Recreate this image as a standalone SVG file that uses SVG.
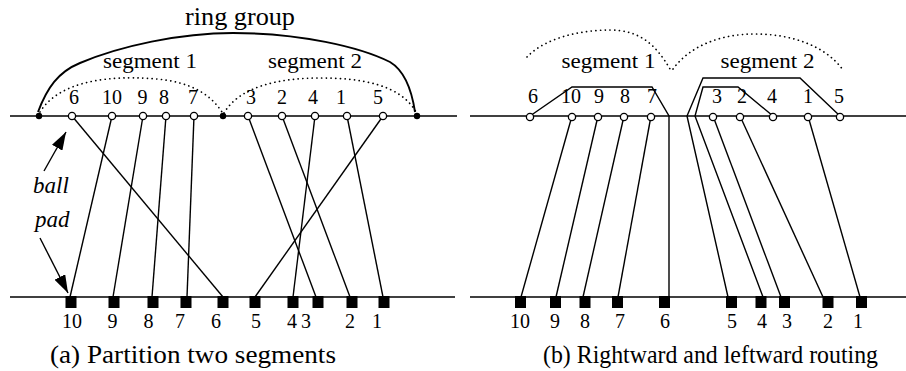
<svg xmlns="http://www.w3.org/2000/svg" width="906" height="371" viewBox="0 0 906 371">
<style>
text{font-family:"Liberation Serif","Times New Roman",serif;fill:#000}
.n{font-size:20px;text-anchor:middle}
.seg{font-size:22px;text-anchor:middle}
.cap{font-size:25px}
.it{font-size:23px;font-style:italic}
.base{stroke:#000;stroke-width:1.5;fill:none}
.w{stroke:#000;stroke-width:1.4;fill:none;stroke-linejoin:miter}
.dot{stroke:#000;stroke-width:1.7;fill:none;stroke-dasharray:0.1 4.6;stroke-linecap:round}
.ball{fill:#fff;stroke:#000;stroke-width:1.3}
.bd{fill:#000}
.pad{fill:#000}
</style>
<defs>
<marker id="ah" markerUnits="userSpaceOnUse" viewBox="0 0 18 12" refX="18" refY="6" markerWidth="18" markerHeight="12" orient="auto"><path d="M0,0 L18,6 L0,12 z" fill="#000"/></marker>
</defs>
<rect width="906" height="371" fill="#fff"/>

<g id="panel-a-lines">
<path class="base" d="M10,116 H457"/>
<path class="base" d="M10,297 H455"/>
</g>
<g id="panel-b-lines">
<path class="base" d="M470,116 H906"/>
<path class="base" d="M470,297 H906"/>
</g>

<g id="connectors">
<path class="w" d="M72,116 L223,297"/>
<path class="w" d="M112,116 L70,297"/>
<path class="w" d="M143,116 L113,297"/>
<path class="w" d="M166,116 L152,297"/>
<path class="w" d="M194,116 L187,297"/>
<path class="w" d="M248,116 L316,297"/>
<path class="w" d="M282,116 L350,297"/>
<path class="w" d="M315,116 L293,297"/>
<path class="w" d="M347,116 L383,297"/>
<path class="w" d="M383,116 L255,297"/>
<path d="M38,112 C47,88 58,72 80,63 C120,46 180,33 233,33 C300,33 360,47 390,62 C405,71 412,92 415,112" stroke="#000" stroke-width="1.9" fill="none"/>
<path class="dot" d="M40,112 C60,80 110,77 140,78 C180,79 206,88 222,112"/>
<path class="dot" d="M224,113 C240,86 280,78 320,78 C360,78 400,84 416,112"/>
<path d="M44,171 L66,132" stroke="#000" stroke-width="1.4" marker-end="url(#ah)"/>
<path d="M40,238 L68,293" stroke="#000" stroke-width="1.4" marker-end="url(#ah)"/>

<path class="w" d="M572,116 L521,297"/>
<path class="w" d="M598,116 L556,297"/>
<path class="w" d="M624,116 L583,297"/>
<path class="w" d="M651,116 L618,297"/>
<path class="w" d="M530,116 L572,87 L652,87 L669,116 L669,297"/>
<path class="w" d="M840,116 L800,78 L703,78 L687,116 L728,297"/>
<path class="w" d="M773,116 L738,87 L703,87 L695,116 L763,297"/>
<path class="w" d="M713,116 L781,297"/>
<path class="w" d="M740,116 L823,297"/>
<path class="w" d="M808,116 L860,297"/>
<path class="dot" d="M527,57 C545,38 580,30 610,30 C640,30 656,45 670,69"/>
<path class="dot" d="M673,69 C690,46 720,34 755,34 C790,34 825,45 843,70"/>
</g>

<g id="panel-a-balls">
<circle class="bd" cx="39" cy="116" r="3.2"/>
<circle class="bd" cx="223" cy="116" r="3.2"/>
<circle class="bd" cx="417" cy="116" r="3.2"/>
<circle class="ball" cx="72" cy="116" r="3.6"/>
<circle class="ball" cx="112" cy="116" r="3.6"/>
<circle class="ball" cx="143" cy="116" r="3.6"/>
<circle class="ball" cx="166" cy="116" r="3.6"/>
<circle class="ball" cx="194" cy="116" r="3.6"/>
<circle class="ball" cx="248" cy="116" r="3.6"/>
<circle class="ball" cx="282" cy="116" r="3.6"/>
<circle class="ball" cx="315" cy="116" r="3.6"/>
<circle class="ball" cx="347" cy="116" r="3.6"/>
<circle class="ball" cx="383" cy="116" r="3.6"/>
</g>

<g id="panel-a-pads">
<rect class="pad" x="65.5" y="296" width="11" height="12"/>
<rect class="pad" x="108.5" y="296" width="11" height="12"/>
<rect class="pad" x="147.5" y="296" width="11" height="12"/>
<rect class="pad" x="180.5" y="296" width="11" height="12"/>
<rect class="pad" x="217.5" y="296" width="11" height="12"/>
<rect class="pad" x="249.5" y="296" width="11" height="12"/>
<rect class="pad" x="287.5" y="296" width="11" height="12"/>
<rect class="pad" x="312.5" y="296" width="11" height="12"/>
<rect class="pad" x="346.5" y="296" width="11" height="12"/>
<rect class="pad" x="378.5" y="296" width="11" height="12"/>
</g>

<g id="panel-b-balls">
<circle class="ball" cx="530" cy="117" r="3.6"/>
<circle class="ball" cx="572" cy="117" r="3.6"/>
<circle class="ball" cx="598" cy="117" r="3.6"/>
<circle class="ball" cx="624" cy="117" r="3.6"/>
<circle class="ball" cx="651" cy="117" r="3.6"/>
<circle class="ball" cx="713" cy="117" r="3.6"/>
<circle class="ball" cx="740" cy="117" r="3.6"/>
<circle class="ball" cx="773" cy="117" r="3.6"/>
<circle class="ball" cx="808" cy="117" r="3.6"/>
<circle class="ball" cx="840" cy="117" r="3.6"/>
</g>

<g id="panel-b-pads">
<rect class="pad" x="515" y="296" width="11" height="12"/>
<rect class="pad" x="550" y="296" width="11" height="12"/>
<rect class="pad" x="579.5" y="296" width="11" height="12"/>
<rect class="pad" x="612" y="296" width="11" height="12"/>
<rect class="pad" x="659" y="296" width="11" height="12"/>
<rect class="pad" x="726" y="296" width="11" height="12"/>
<rect class="pad" x="755.5" y="296" width="11" height="12"/>
<rect class="pad" x="779" y="296" width="11" height="12"/>
<rect class="pad" x="822.5" y="296" width="11" height="12"/>
<rect class="pad" x="856" y="296" width="11" height="12"/>
</g>

<g id="labels-a">
<text class="cap" x="240" y="25" text-anchor="middle" textLength="110" lengthAdjust="spacingAndGlyphs">ring group</text>
<text class="seg" x="150" y="68" textLength="94" lengthAdjust="spacingAndGlyphs">segment 1</text>
<text class="seg" x="315" y="68" textLength="94" lengthAdjust="spacingAndGlyphs">segment 2</text>
<text class="n" x="74" y="104">6</text>
<text class="n" x="112" y="104">10</text>
<text class="n" x="142.5" y="104">9</text>
<text class="n" x="164" y="104">8</text>
<text class="n" x="193" y="104">7</text>
<text class="n" x="251" y="104">3</text>
<text class="n" x="282" y="104">2</text>
<text class="n" x="313" y="104">4</text>
<text class="n" x="341" y="104">1</text>
<text class="n" x="378" y="104">5</text>
<text class="it" x="33" y="193">ball</text>
<text class="it" x="35" y="227">pad</text>
<text class="n" x="72" y="328">10</text>
<text class="n" x="112.5" y="328">9</text>
<text class="n" x="148.5" y="328">8</text>
<text class="n" x="180" y="328">7</text>
<text class="n" x="216" y="328">6</text>
<text class="n" x="256" y="328">5</text>
<text class="n" x="292" y="328">4</text>
<text class="n" x="306" y="328">3</text>
<text class="n" x="350" y="328">2</text>
<text class="n" x="377" y="328">1</text>
<text class="cap" x="50" y="363" textLength="286" lengthAdjust="spacingAndGlyphs">(a) Partition two segments</text>
</g>

<g id="labels-b">
<text class="seg" x="608.5" y="68" textLength="94" lengthAdjust="spacingAndGlyphs">segment 1</text>
<text class="seg" x="767.5" y="68" textLength="94" lengthAdjust="spacingAndGlyphs">segment 2</text>
<text class="n" x="533" y="103">6</text>
<text class="n" x="571" y="103">10</text>
<text class="n" x="599" y="103">9</text>
<text class="n" x="625" y="103">8</text>
<text class="n" x="652" y="103">7</text>
<text class="n" x="717" y="103">3</text>
<text class="n" x="742" y="103">2</text>
<text class="n" x="772" y="103">4</text>
<text class="n" x="808" y="103">1</text>
<text class="n" x="839" y="103">5</text>
<text class="n" x="520" y="328">10</text>
<text class="n" x="555" y="328">9</text>
<text class="n" x="585" y="328">8</text>
<text class="n" x="620" y="328">7</text>
<text class="n" x="665" y="328">6</text>
<text class="n" x="732" y="328">5</text>
<text class="n" x="762" y="328">4</text>
<text class="n" x="787" y="328">3</text>
<text class="n" x="828" y="328">2</text>
<text class="n" x="858" y="328">1</text>
<text class="cap" x="543" y="363" textLength="335" lengthAdjust="spacingAndGlyphs">(b) Rightward and leftward routing</text>
</g>
</svg>
